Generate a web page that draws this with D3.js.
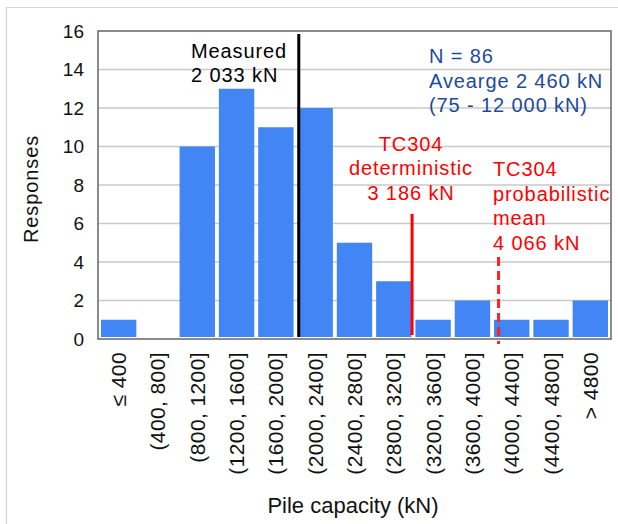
<!DOCTYPE html>
<html>
<head>
<meta charset="utf-8">
<script src="https://cdn.jsdelivr.net/npm/d3@7"></script>
<style>
  body { margin: 0; background: #fff; }
  svg { display: block; font-family: "Liberation Sans", Arial, sans-serif; }
</style>
</head>
<body>
<svg id="chart" width="618" height="524"></svg>
<script>
// pile capacity bins (kN) and number of responses in each
var categories = ["\u2264 400", "(400, 800]", "(800, 1200]", "(1200, 1600]", "(1600, 2000]",
    "(2000, 2400]", "(2400, 2800]", "(2800, 3200]", "(3200, 3600]", "(3600, 4000]",
    "(4000, 4400]", "(4400, 4800]", "> 4800"];
var responses = [1, 0, 10, 13, 11, 12, 5, 3, 1, 2, 1, 1, 2];
var yTicks = [0, 2, 4, 6, 8, 10, 12, 14, 16];
var binWidth = 400;

// reference capacities (kN) marked on the chart
var markerNames = ["measured", "deterministic", "probabilistic"];
var markerValues = [2033, 3186, 4066];

var summaryLines = ["N = 86", "Avearge 2 460 kN", "(75 - 12 000 kN)"];
var measuredLines = ["Measured", "2 033 kN"];
var deterministicLines = ["TC304", "deterministic", "3 186 kN"];
var probabilisticLines = ["TC304", "probabilistic", "mean", "4 066 kN"];

var svg = d3.select("#chart");
var frame = { left: 98, right: 611, top: 31, bottom: 339 };

var x = d3.scaleBand()
    .domain(categories)
    .range([99, 610])
    .paddingInner(0.1)
    .paddingOuter(0.05);
var y = d3.scaleLinear().domain([0, 16]).range([frame.bottom, frame.top]);

// continuous kN scale laid over the bins
var x0 = x(categories[0]) - x.step() * x.paddingInner() / 2;
var kn = d3.scaleLinear()
    .domain([0, binWidth * categories.length])
    .range([x0, x0 + x.step() * categories.length]);

// faint outer border of the figure
svg.append("path")
    .attr("d", "M6.5,524 V7.5 H618")
    .attr("fill", "none")
    .attr("stroke", "#d6d6d6")
    .attr("stroke-width", 1.2);

// grid
svg.append("g").selectAll("line")
    .data(yTicks.slice(1, -1))
    .join("line")
    .attr("x1", frame.left).attr("x2", frame.right)
    .attr("y1", function (d) { return y(d); })
    .attr("y2", function (d) { return y(d); })
    .attr("stroke", "#c9c9c9")
    .attr("stroke-width", 1.6);

// bars
svg.append("g").selectAll("rect")
    .data(responses)
    .join("rect")
    .attr("x", function (d, i) { return x(categories[i]); })
    .attr("width", x.bandwidth())
    .attr("y", function (d) { return y(d); })
    .attr("height", function (d) { return y(0) - y(d) - 2; })
    .attr("fill", "#4285f4");

// plot frame
svg.append("rect")
    .attr("x", frame.left).attr("y", frame.top)
    .attr("width", frame.right - frame.left)
    .attr("height", frame.bottom - frame.top)
    .attr("fill", "none")
    .attr("stroke", "#6e6e6e")
    .attr("stroke-width", 1.6);

// y tick labels
svg.append("g").selectAll("text")
    .data(yTicks)
    .join("text")
    .attr("x", 84)
    .attr("y", function (d) { return y(d); })
    .attr("dy", "0.36em")
    .attr("text-anchor", "end")
    .attr("font-size", 19)
    .attr("fill", "#111")
    .text(function (d) { return d; });

// x tick labels, rotated
svg.append("g").selectAll("text")
    .data(categories)
    .join("text")
    .attr("transform", function (d) {
        return "translate(" + (x(d) + x.bandwidth() / 2 + 7.5) + ",352) rotate(-90)";
    })
    .attr("text-anchor", "end")
    .attr("font-size", 21)
    .attr("letter-spacing", 0.4)
    .attr("fill", "#111")
    .text(function (d) { return d; });

// axis titles
svg.append("text")
    .attr("x", 353).attr("y", 512.5)
    .attr("text-anchor", "middle")
    .attr("font-size", 22)
    .attr("fill", "#111")
    .text("Pile capacity (kN)");

svg.append("text")
    .attr("transform", "translate(38," + (y(8) + 4) + ") rotate(-90)")
    .attr("text-anchor", "middle")
    .attr("font-size", 20)
    .attr("letter-spacing", 0.9)
    .attr("fill", "#111")
    .text("Responses");

// marker lines
var measured = markerValues[markerNames.indexOf("measured")];
var deterministic = markerValues[markerNames.indexOf("deterministic")];
var probabilistic = markerValues[markerNames.indexOf("probabilistic")];

svg.append("line")
    .attr("x1", kn(measured)).attr("x2", kn(measured))
    .attr("y1", y(16) + 3).attr("y2", y(0) - 2)
    .attr("stroke", "#000").attr("stroke-width", 3);

svg.append("line")
    .attr("x1", kn(deterministic)).attr("x2", kn(deterministic))
    .attr("y1", y(6.5)).attr("y2", y(0) - 4)
    .attr("stroke", "#ff0000").attr("stroke-width", 3);

svg.append("line")
    .attr("x1", kn(probabilistic)).attr("x2", kn(probabilistic))
    .attr("y1", y(4.26)).attr("y2", y(0) + 5)
    .attr("stroke", "#ff2020").attr("stroke-width", 3)
    .attr("stroke-dasharray", "9,5");

// annotation blocks
function textBlock(lines, px, py, anchor, color) {
    var t = svg.append("text")
        .attr("font-size", 20)
        .attr("letter-spacing", 0.9)
        .attr("text-anchor", anchor)
        .attr("fill", color);
    lines.forEach(function (line, i) {
        t.append("tspan").attr("x", px).attr("y", py + i * 24.5).text(line);
    });
    return t;
}

textBlock(measuredLines, 191, 57.5, "start", "#000");
textBlock(summaryLines, 429, 63, "start", "#1c4a9c");
textBlock(deterministicLines, 411, 150.5, "middle", "#ff0000");
textBlock(probabilisticLines, 493, 176, "start", "#ff0000");
</script>
</body>
</html>
